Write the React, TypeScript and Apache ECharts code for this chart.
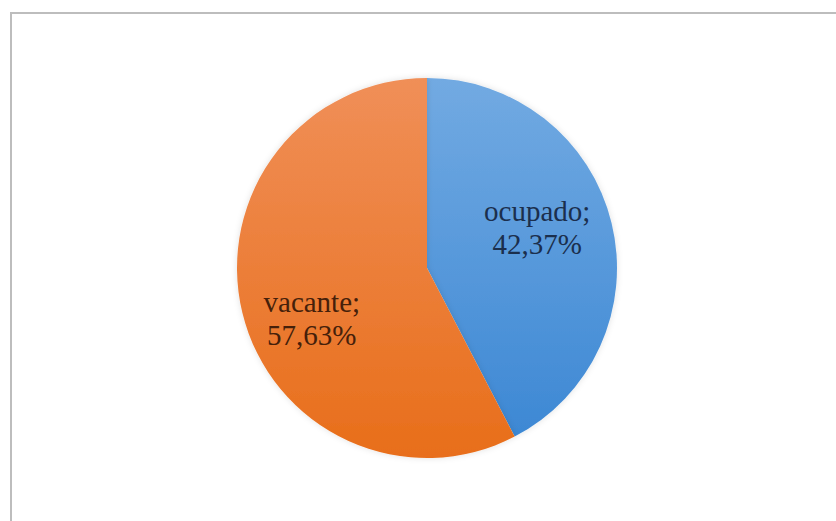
import React, { useEffect, useRef } from "react";
import * as echarts from "echarts";

const categories = ["ocupado", "vacante"];
const values = [42.37, 57.63];
const labelTexts = ["42,37%", "57,63%"];

const sliceColors = [
  { top: "#72aae2", bottom: "#3d88d4", text: "#1b2f4d" },
  { top: "#f08f58", bottom: "#e86e1a", text: "#45200a" },
];
const labelOffsets = [
  [15, -17],
  [-20, 27],
];

export default function App() {
  const ref = useRef<HTMLDivElement>(null);
  useEffect(() => {
    if (!ref.current) return;
    const chart = echarts.init(ref.current, null, { renderer: "svg" });
    chart.setOption({
      animation: false,
      backgroundColor: "#ffffff",
      graphic: [
        {
          type: "rect",
          shape: { x: 11, y: 13, width: 900, height: 600 },
          style: { fill: "none", stroke: "#bdbdbd", lineWidth: 2 },
          silent: true,
        },
      ],
      series: [
        {
          type: "pie",
          center: [427, 268],
          radius: [0, 190],
          startAngle: 90,
          clockwise: true,
          silent: true,
          label: {
            show: true,
            position: "inside",
            fontFamily: "'Liberation Serif', 'Times New Roman', serif",
            fontSize: 29,
            lineHeight: 33,
          },
          labelLine: { show: false },
          itemStyle: {
            borderWidth: 0,
            shadowBlur: 6,
            shadowColor: "rgba(0,0,0,0.12)",
          },
          data: categories.map((c, i) => ({
            name: c,
            value: values[i],
            itemStyle: {
              color: new echarts.graphic.LinearGradient(0, 0, 0, 1, [
                { offset: 0, color: sliceColors[i].top },
                { offset: 1, color: sliceColors[i].bottom },
              ]),
            },
            label: {
              formatter: c + ";\n" + labelTexts[i],
              color: sliceColors[i].text,
              offset: labelOffsets[i],
            },
          })),
        },
      ],
    });
    return () => chart.dispose();
  }, []);
  return (
    <div
      ref={ref}
      style={{ position: "absolute", left: 0, top: 0, width: 836, height: 521 }}
    />
  );
}
